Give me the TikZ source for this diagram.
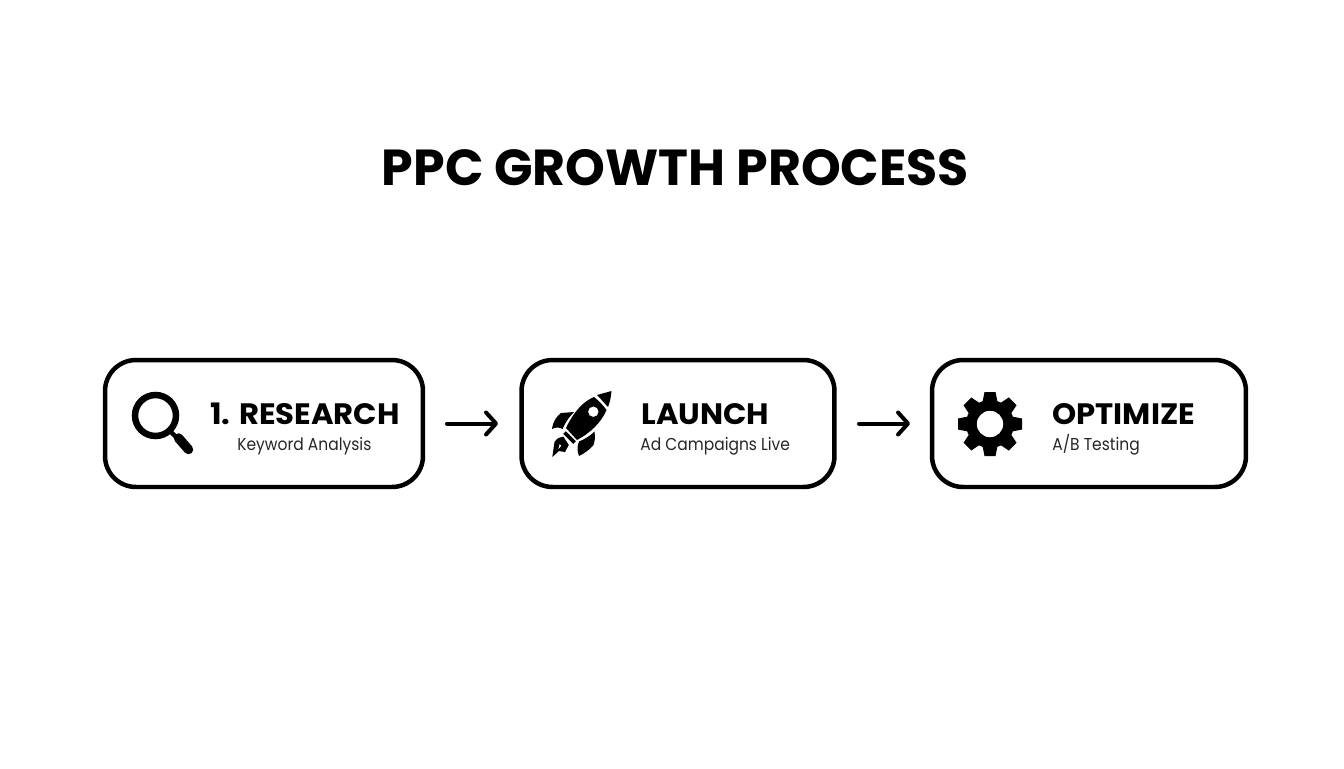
\documentclass[tikz,border=0pt]{standalone}
\usepackage{fontspec}
\setmainfont{Poppins}
\newfontfamily\headfont[FakeStretch=1.04]{Poppins}
\newfontfamily\subfont[FakeStretch=0.9]{Poppins}
\usetikzlibrary{arrows.meta}

\tikzset{
  stepbox/.style={draw, line width=0.09cm, rounded corners=0.62cm, minimum width=6.36cm,
    minimum height=2.54cm, outer sep=0pt, inner sep=0pt},
  headtext/.style={anchor=base west, inner sep=0pt, font=\headfont\fontsize{16.8}{20}\selectfont\bfseries},
  subtext/.style={anchor=base west, inner sep=0pt, font=\subfont\fontsize{9.8}{12}\selectfont, text=black!85},
  flowarrow/.style={line width=0.08cm, line cap=round,
    -{Straight Barb[length=0.2cm, width=0.44cm, round]}},
}

\begin{document}
\begin{tikzpicture}[x=0.02cm, y=-0.02cm]

  \useasboundingbox (0,0) rectangle (1344,768);

  \node[anchor=base, inner sep=0pt, font=\fontsize{28.8}{34}\selectfont\bfseries] (title) at (675.5,185) {PPC GROWTH PROCESS};

  \node[stepbox] (research) at (264,423.5) {};
  \node[stepbox, minimum width=6.26cm] (launch) at (678,423.5) {};
  \node[stepbox, minimum width=6.28cm] (optimize) at (1089,423.5) {};

  \draw[flowarrow, shorten <=0.48cm, shorten >=0.47cm] (research) -- (launch);
  \draw[flowarrow, shorten <=0.49cm, shorten >=0.44cm] (launch) -- (optimize);

  \node[headtext] (researchhead) at (210,424) {1. RESEARCH};
  \node[subtext] (researchsub) at (237,450) {Keyword Analysis};

  \node[headtext] (launchhead) at (641,424) {LAUNCH};
  \node[subtext] (launchsub) at (640,450) {Ad Campaigns Live};

  \node[headtext] (optimizehead) at (1052,424) {OPTIMIZE};
  \node[subtext] (optimizesub) at (1052,450) {A/B Testing};

  % magnifier
  \draw[line width=0.13cm] (155.5,415.5) circle (20.5);
  \draw[line width=0.09cm] (170,431) -- (178,439);
  \draw[line width=0.19cm, line cap=round] (178.5,438) -- (188.5,449.5);

  % rocket
  \fill (611.5,391) -- (597,395) .. controls (602,400) and (604,403) .. (608,407) .. controls (610,402) and (611,397) .. cycle;
  \fill[even odd rule] (594,397) .. controls (584,401) and (574,411) .. (566,428) -- (577,440)
    .. controls (590,433) and (601,423) .. (606.5,410) .. controls (603,405) and (599,401) .. cycle
    (593.3,411.7) circle (5.3);
  \fill (552,429) .. controls (553,421) and (557,416) .. (561,413) -- (574,412)
    .. controls (569,417) and (565,423) .. (562.5,429) .. controls (559,427) and (556,427) .. cycle;
  \fill (579,456) .. controls (577,451) and (577,446) .. (579,441.5) .. controls (585,439) and (590,436) .. (594.5,431.5)
    .. controls (595.5,438) and (594.5,442) .. (593.5,445) .. controls (589,450) and (585,453) .. cycle;
  \draw[line width=0.075cm] (564.5,432.5) -- (574.5,442.5);
  \fill[even odd rule] (552.3,457) -- (554.5,442) .. controls (557,438) and (560,437) .. (563.3,436.5)
    -- (568.8,445) .. controls (567,448) and (566,450) .. (565,452) -- (559,451) -- cycle
    (558,450) -- (561.5,445.5) -- (559.5,444) -- cycle;

  % gear
  \fill[even odd rule] (990,424) circle (24) (990,424) circle (13.3);
  \foreach \ang in {0,45,...,315} {
    \fill[rotate around={\ang:(990,424)}] (982.5,402) -- (984.5,392) -- (995.5,392) -- (997.5,402) -- cycle;
  }

\end{tikzpicture}
\end{document}
